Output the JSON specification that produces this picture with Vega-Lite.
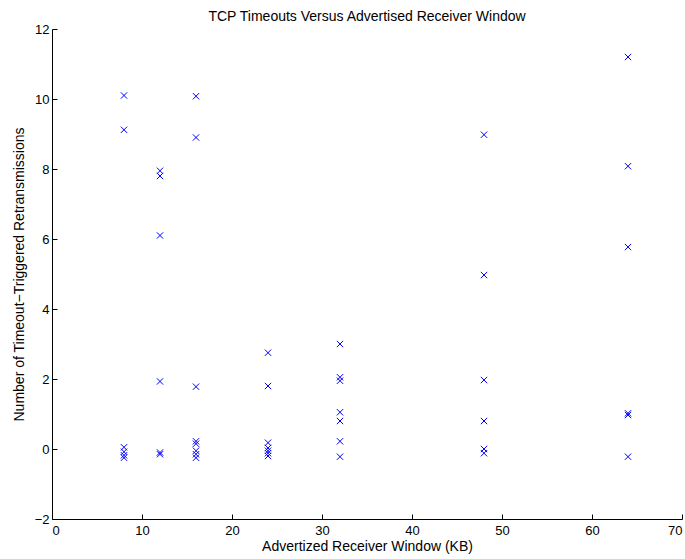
{
  "$schema": "https://vega.github.io/schema/vega-lite/v6.json",
  "autosize": {"type": "none"},
  "padding": {"left": 52, "top": 29, "right": 3, "bottom": 40},
  "width": 630,
  "height": 490,
  "background": "white",
  "config": {
    "view": {"stroke": null},
    "font": "Liberation Sans",
    "axis": {"grid": false, "domainColor": "#000", "tickColor": "#000", "labelColor": "#000", "titleColor": "#000", "labelFont": "Liberation Sans", "titleFont": "Liberation Sans", "labelFontSize": 13, "titleFontSize": 14, "titleFontWeight": "normal", "tickSize": -5, "domainWidth": 1, "tickWidth": 1}
  },
  "title": {"text": "TCP Timeouts Versus Advertised Receiver Window", "fontSize": 14, "fontWeight": "normal", "font": "Liberation Sans", "color": "#000", "offset": -1},
  "data": {"values": [
    {"w": 8, "n": 10.1}, {"w": 8, "n": 9.12}, {"w": 8, "n": 0.05}, {"w": 8, "n": -0.08}, {"w": 8, "n": -0.18}, {"w": 8, "n": -0.25},
    {"w": 12, "n": 7.95}, {"w": 12, "n": 7.8}, {"w": 12, "n": 6.1}, {"w": 12, "n": 1.93}, {"w": 12, "n": -0.1}, {"w": 12, "n": -0.15},
    {"w": 16, "n": 10.08}, {"w": 16, "n": 8.9}, {"w": 16, "n": 1.78}, {"w": 16, "n": 0.22}, {"w": 16, "n": 0.15}, {"w": 16, "n": -0.05}, {"w": 16, "n": -0.15}, {"w": 16, "n": -0.25},
    {"w": 24, "n": 2.75}, {"w": 24, "n": 1.8}, {"w": 24, "n": 0.18}, {"w": 24, "n": 0.03}, {"w": 24, "n": -0.05}, {"w": 24, "n": -0.12}, {"w": 24, "n": -0.2},
    {"w": 32, "n": 3.0}, {"w": 32, "n": 2.05}, {"w": 32, "n": 1.95}, {"w": 32, "n": 1.05}, {"w": 32, "n": 0.8}, {"w": 32, "n": 0.22}, {"w": 32, "n": -0.22},
    {"w": 48, "n": 8.98}, {"w": 48, "n": 4.97}, {"w": 48, "n": 1.97}, {"w": 48, "n": 0.8}, {"w": 48, "n": 0.0}, {"w": 48, "n": -0.12},
    {"w": 64, "n": 11.2}, {"w": 64, "n": 8.08}, {"w": 64, "n": 5.77}, {"w": 64, "n": 1.02}, {"w": 64, "n": 0.97}, {"w": 64, "n": -0.22}
  ]},
  "mark": {"type": "point", "shape": "M-1,-1L1,1M-1,1L1,-1", "filled": false, "stroke": "#0000ff", "strokeWidth": 1, "size": 40, "opacity": 1},
  "encoding": {
    "x": {"field": "w", "type": "quantitative", "scale": {"domain": [0, 70], "nice": false, "zero": false}, "axis": {"values": [0,10,20,30,40,50,60,70], "title": "Advertized Receiver Window (KB)", "labelPadding": 10, "titlePadding": 2}},
    "y": {"field": "n", "type": "quantitative", "scale": {"domain": [-2, 12], "nice": false, "zero": false}, "axis": {"values": [-2,0,2,4,6,8,10,12], "title": "Number of Timeout\u2212Triggered Retransmissions", "labelPadding": 8, "titlePadding": 8, "labelExpr": "replace(datum.label, '-', '\u2212')"}}
  }
}
